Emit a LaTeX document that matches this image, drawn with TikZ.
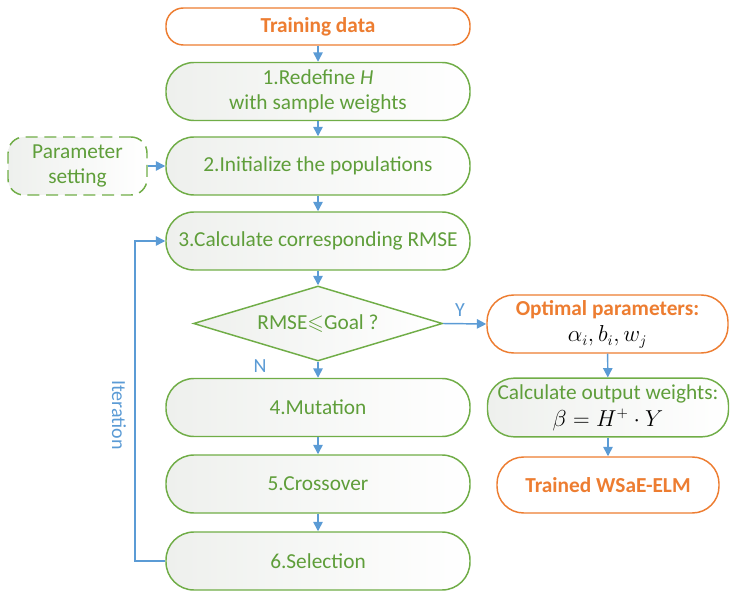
\documentclass[tikz,border=0pt]{standalone}
\usepackage{amssymb}
\usepackage{fontspec}
\setmainfont{Carlito}
\usetikzlibrary{arrows.meta,shapes.geometric}
\definecolor{gline}{HTML}{70AD47}
\definecolor{gtext}{HTML}{5F9E3A}
\definecolor{oline}{HTML}{ED7D31}
\definecolor{ablue}{HTML}{5B9BD5}
\definecolor{gfill}{HTML}{EEF0ED}
\tikzset{
  gbox/.style={draw=gline, line width=1.1pt, left color=gfill, right color=white,
    text=gtext, align=center, font=\fontsize{16}{19}\selectfont, inner sep=0pt},
  obox/.style={draw=oline, line width=1.1pt, fill=white, text=oline, align=center,
    font=\fontsize{16}{19}\selectfont\bfseries, inner sep=0pt},
  arr/.style={draw=ablue, line width=1.1pt, -{Triangle[length=7pt,width=7pt]}},
  lbl/.style={text=ablue, font=\fontsize{15}{17}\selectfont}
}
\begin{document}
\begin{tikzpicture}[x=0.75pt,y=-0.75pt]
\useasboundingbox (0,0) rectangle (736,599);
\node[obox, minimum width=228pt, minimum height=27.75pt, rounded corners=13pt] (train) at (318,26.5) {Training data};
\node[gbox, minimum width=228pt, minimum height=43.5pt, rounded corners=21pt] (b1) at (318,91.5) {1.Redefine \textit{H}\\with sample weights};
\node[gbox, minimum width=228pt, minimum height=43.5pt, rounded corners=21pt] (b2) at (318,166) {2.Initialize the populations};
\node[gbox, minimum width=104.25pt, minimum height=43.5pt, rounded corners=12pt, dashed, dash pattern=on 9pt off 5pt] (ps) at (77.5,166) {Parameter\\setting};
\node[gbox, minimum width=228pt, minimum height=43.5pt, rounded corners=21pt] (b3) at (318,241) {3.Calculate corresponding RMSE};
\node[gbox, shape=diamond, minimum width=186.75pt, minimum height=56.25pt, shape aspect=3.3] (d) at (318,323.5) {RMSE$\leqslant$Goal ?};
\node[gbox, minimum width=228pt, minimum height=43.5pt, rounded corners=21pt] (b4) at (318,407.5) {4.Mutation};
\node[gbox, minimum width=228pt, minimum height=43.5pt, rounded corners=21pt] (b5) at (318,484) {5.Crossover};
\node[gbox, minimum width=228pt, minimum height=43.5pt, rounded corners=21pt] (b6) at (318,561) {6.Selection};
\node[obox, minimum width=180.75pt, minimum height=43.5pt, rounded corners=20pt] (opt) at (607.5,324) {Optimal parameters:\\[1pt]\textcolor{black}{\mdseries$\alpha_i,b_i,w_j$}};
\node[gbox, minimum width=180.75pt, minimum height=44pt, rounded corners=20pt] (calc) at (608,407.5) {Calculate output weights:\\[1pt]\textcolor{black}{$\beta=H^{+}\cdot Y$}};
\node[obox, minimum width=166.5pt, minimum height=42pt, rounded corners=20pt] (tr) at (608,485) {Trained WSaE-ELM};
\draw[arr] (train) -- (b1);
\draw[arr] (b1) -- (b2);
\draw[arr] (ps) -- (b2);
\draw[arr] (b2) -- (b3);
\draw[arr] (b3) -- (d);
\draw[arr] (d) -- (b4);
\draw[arr] (b4) -- (b5);
\draw[arr] (b5) -- (b6);
\draw[arr] (d.east) -- (opt.west);
\draw[arr] (opt) -- (calc);
\draw[arr] (calc) -- (tr);
\coordinate (lb) at (135,561);
\coordinate (lt) at (135,241);
\draw[arr] (b6.west) -- (lb) -- (lt) -- (b3.west);
\node[lbl] (y) at (460,310) {Y};
\node[lbl] (n) at (260,366) {N};
\node[lbl, rotate=-90] (it) at (119,415) {Iteration};
\end{tikzpicture}
\end{document}
